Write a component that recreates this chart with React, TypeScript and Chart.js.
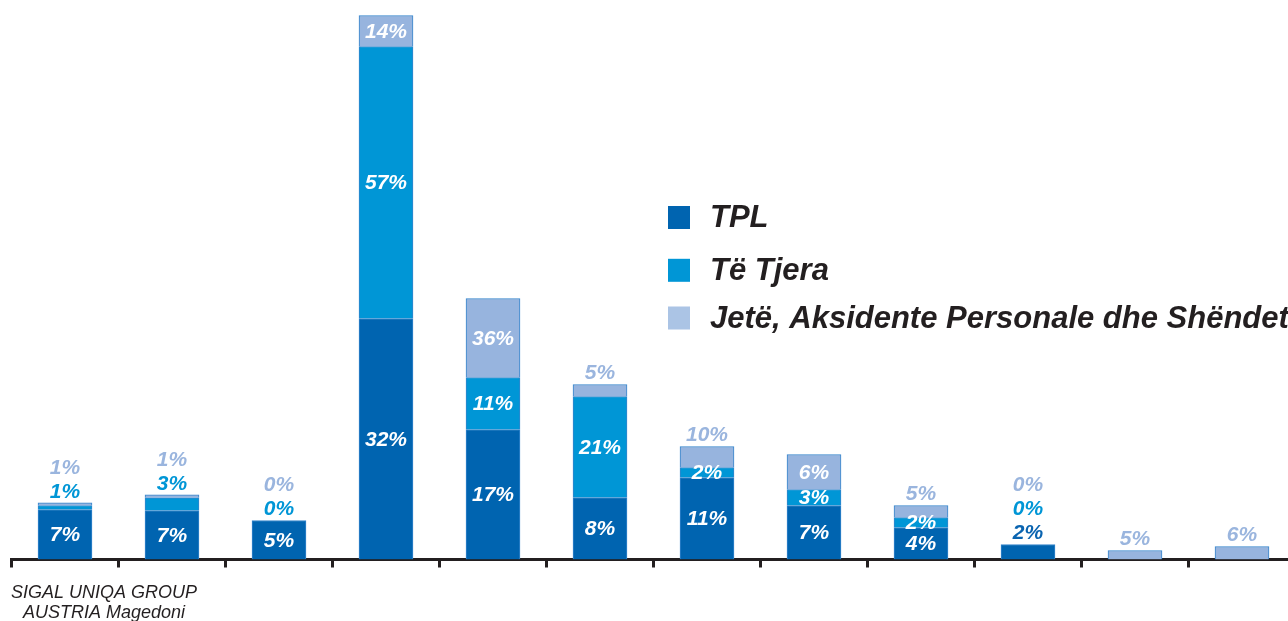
import React, { useEffect, useRef } from 'react';
import { Chart, registerables } from 'chart.js';

Chart.register(...registerables);

// ---- data ----
const categories: (string | string[])[] = [
  ['SIGAL UNIQA GROUP', 'AUSTRIA Magedoni'], '', '', '', '', '', '', '', '', '', '', '',
];
const seriesNames = ['TPL', 'Të Tjera', 'Jetë, Aksidente Personale dhe Shëndet'];
const tplValues = [50, 49, 39, 241, 130, 62, 82, 54, 32, 15, 0, 0];
const tjeraValues = [4, 12.7, 0, 272, 52, 101, 10, 16, 10, 0, 0, 0];
const jeteValues = [2.6, 3, 0, 31, 79, 12, 21, 35, 12, 0, 9, 13];
const tplShares = ['7%', '7%', '5%', '32%', '17%', '8%', '11%', '7%', '4%', '2%', '', ''];
const tjeraShares = ['1%', '3%', '0%', '57%', '11%', '21%', '2%', '3%', '2%', '0%', '', ''];
const jeteShares = ['1%', '1%', '0%', '14%', '36%', '5%', '10%', '6%', '5%', '0%', '5%', '6%'];
const tplPlacement = ['in', 'in', 'in', 'in', 'in', 'in', 'in', 'in', 'in', 'above', '', ''];
const tjeraPlacement = ['above', 'above', 'above', 'in', 'in', 'in', 'in', 'in', 'in', 'above', '', ''];
const jetePlacement = ['above', 'above', 'above', 'in', 'in', 'above', 'above', 'in', 'above', 'above', 'above', 'above'];

// ---- styles ----
const barColors = ['#0064b0', '#0096d6', '#97b4de'];
const legendColors = ['#0064b0', '#0096d6', '#abc4e5'];
const aboveColors = ['#0a64b0', '#0096d6', '#9ab5de'];
const FONT = '"Liberation Sans", Arial, sans-serif';

const shares = [tplShares, tjeraShares, jeteShares];
const placements = [tplPlacement, tjeraPlacement, jetePlacement];

const labelPlugin = {
  id: 'segLabels',
  afterDatasetsDraw(chart: any) {
    const ctx = chart.ctx;
    ctx.save();
    ctx.font = `italic bold 21px ${FONT}`;
    ctx.textAlign = 'center';
    ctx.textBaseline = 'middle';
    const n = chart.data.labels.length;
    for (let i = 0; i < n; i++) {
      let top = Infinity;
      const above: { text: string; color: string; x: number }[] = [];
      chart.data.datasets.forEach((_ds: any, d: number) => {
        const el = chart.getDatasetMeta(d).data[i];
        if (!el) return;
        top = Math.min(top, el.y);
        const text = shares[d][i];
        if (!text) return;
        if (placements[d][i] === 'in') {
          ctx.fillStyle = '#ffffff';
          ctx.fillText(text, el.x, (el.y + el.base) / 2 + 1);
        } else {
          above.push({ text, color: aboveColors[d], x: el.x });
        }
      });
      above.forEach((a, k) => {
        ctx.fillStyle = a.color;
        ctx.fillText(a.text, a.x, top - 11 - 24 * k);
      });
    }
    ctx.restore();
  },
};

const legendPlugin = {
  id: 'customLegend',
  afterDraw(chart: any) {
    const ctx = chart.ctx;
    const ys = [217.5, 270.3, 318];
    ctx.save();
    ctx.font = `italic bold 31px ${FONT}`;
    ctx.textAlign = 'left';
    ctx.textBaseline = 'middle';
    chart.data.datasets.forEach((ds: any, d: number) => {
      ctx.fillStyle = legendColors[d];
      ctx.fillRect(668, ys[d] - 11.5, 22, 23);
      ctx.fillStyle = '#231f20';
      ctx.fillText(ds.label, 710, ys[d] + 1);
    });
    ctx.restore();
  },
};

export default function App() {
  const ref = useRef<HTMLCanvasElement>(null);
  useEffect(() => {
    if (!ref.current) return;
    const values = [tplValues, tjeraValues, jeteValues];
    const chart = new Chart(ref.current, {
      type: 'bar',
      data: {
        labels: categories,
        datasets: seriesNames.map((name, d) => ({
          label: name,
          data: values[d],
          backgroundColor: barColors[d],
          borderColor: '#3585cc',
          borderWidth: 1,
          barThickness: 54,
        })),
      },
      options: {
        animation: false,
        responsive: false,
        devicePixelRatio: 1,
        layout: { padding: { top: 9.5, left: 11.5, right: 4.5, bottom: 0 } },
        plugins: { legend: { display: false }, tooltip: { enabled: false } },
        scales: {
          x: {
            stacked: true,
            z: 1,
            grid: {
              display: true,
              offset: true,
              drawOnChartArea: false,
              drawTicks: true,
              tickLength: 8,
              tickWidth: 3,
              tickColor: '#231f20',
            },
            border: { display: true, color: '#231f20', width: 3 },
            ticks: {
              autoSkip: false,
              maxRotation: 0,
              minRotation: 0,
              padding: 15.5,
              labelOffset: 39,
              color: '#231f20',
              font: { family: FONT, size: 18, style: 'italic', lineHeight: 1.11 },
            },
            afterFit: (scale: any) => {
              scale.height = 61.5;
              scale.paddingLeft = 0;
              scale.paddingRight = 0;
            },
          },
          y: {
            stacked: true,
            display: false,
            min: 0,
            max: 550,
          },
        },
      },
      plugins: [labelPlugin, legendPlugin],
    });
    return () => chart.destroy();
  }, []);
  return (
    <div style={{ position: 'absolute', left: 0, top: 0, width: 1288, height: 621, overflow: 'hidden', background: '#fff' }}>
      <canvas ref={ref} width={1300} height={621} style={{ width: 1300, height: 621, display: 'block' }} />
    </div>
  );
}
